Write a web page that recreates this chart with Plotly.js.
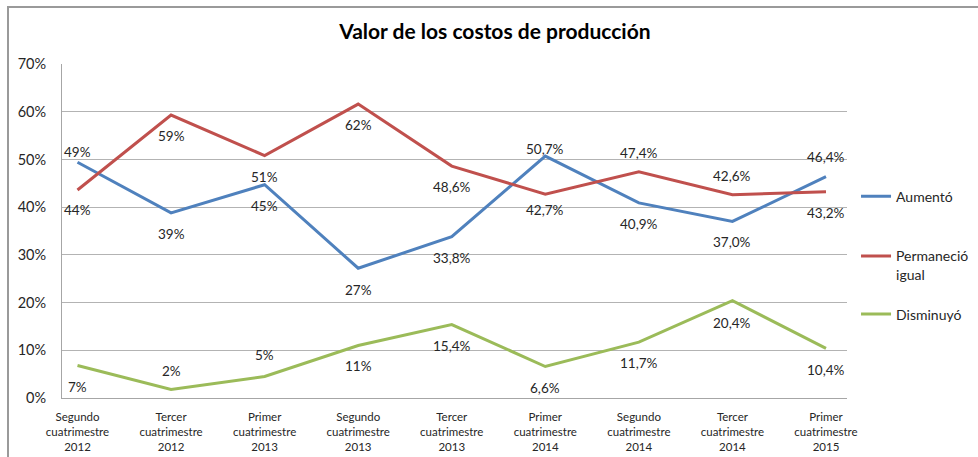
<!DOCTYPE html>
<html>
<head>
<meta charset="utf-8">
<script src="https://cdn.plot.ly/plotly-3.0.1.min.js"></script>
<style>
  html, body { margin: 0; padding: 0; background: #fff; overflow: hidden; }
  #chart { width: 978px; height: 457px; }
  #frame { position: absolute; left: 7px; top: 6px; width: 1100px; height: 600px;
           border: 2px solid #9a9a9a; box-sizing: border-box; pointer-events: none; }
</style>
</head>
<body>
<div id="chart"></div>
<div id="frame"></div>
<script>
const categories = [
  "Segundo<br>cuatrimestre<br>2012",
  "Tercer<br>cuatrimestre<br>2012",
  "Primer<br>cuatrimestre<br>2013",
  "Segundo<br>cuatrimestre<br>2013",
  "Tercer<br>cuatrimestre<br>2013",
  "Primer<br>cuatrimestre<br>2014",
  "Segundo<br>cuatrimestre<br>2014",
  "Tercer<br>cuatrimestre<br>2014",
  "Primer<br>cuatrimestre<br>2015"
];

const aumento     = [49.4, 38.8, 44.7, 27.2, 33.8, 50.7, 40.9, 37.0, 46.4];
const permanecio  = [43.6, 59.3, 50.8, 61.6, 48.6, 42.7, 47.4, 42.6, 43.2];
const disminuyo   = [6.8, 1.8, 4.5, 11.0, 15.4, 6.6, 11.7, 20.4, 10.4];

const aumentoLabels    = ["49%", "39%", "45%", "27%", "33,8%", "50,7%", "40,9%", "37,0%", "46,4%"];
const permanecioLabels = ["44%", "59%", "51%", "62%", "48,6%", "42,7%", "47,4%", "42,6%", "43,2%"];
const disminuyoLabels  = ["7%", "2%", "5%", "11%", "15,4%", "6,6%", "11,7%", "20,4%", "10,4%"];

const seriesNames = ["Aumentó", "Permaneció<br>igual", "Disminuyó"];

// label vertical offsets in px (style only)
const aumentoShift    = [10, -21, -21, -22, -21, 7, -21, -21, 20];
const permanecioShift = [-20, -21, -21, -21, -21, -16, 19, 19, -21];
const disminuyoShift  = [-21, 18, 22, -20, -21, -21, -21, -22, -22];

const colors = ["#4F81BD", "#C0504D", "#9BBB59"];
const FONT = "Lato, 'Open Sans', sans-serif";

const values = [aumento, permanecio, disminuyo];
const labels = [aumentoLabels, permanecioLabels, disminuyoLabels];
const shifts = [aumentoShift, permanecioShift, disminuyoShift];
const legendIds = ["legend", "legend2", "legend3"];
const legendY = [0.651, 0.472, 0.298];

const traces = values.map((v, k) => ({
  type: "scatter",
  mode: "lines",
  x: categories,
  y: v,
  name: seriesNames[k],
  legend: legendIds[k],
  line: { color: colors[k], width: 3 },
  hoverinfo: "skip"
}));

const annotations = [];
values.forEach((v, k) => {
  v.forEach((val, i) => {
    annotations.push({
      x: categories[i], y: val, xref: "x", yref: "y",
      text: labels[k][i], showarrow: false,
      yshift: shifts[k][i],
      font: { family: FONT, size: 13.5, color: "#262626" }
    });
  });
});

const layout = {
  width: 978, height: 457,
  margin: { l: 62, r: 131, t: 64, b: 59, autoexpand: false },
  paper_bgcolor: "#ffffff",
  plot_bgcolor: "#ffffff",
  font: { family: FONT, color: "#262626" },
  title: {
    text: "<b>Valor de los costos de producción</b>",
    font: { family: FONT, size: 21, color: "#000" },
    x: 0.506, xref: "container", xanchor: "center",
    y: 0.93, yref: "container", yanchor: "middle"
  },
  xaxis: {
    type: "category",
    tickfont: { family: FONT, size: 11.5, color: "#262626" },
    showgrid: false,
    showline: true, linecolor: "#a6a6a6", linewidth: 1,
    ticks: "", ticklabelstandoff: 8, fixedrange: true
  },
  yaxis: {
    range: [0, 70], dtick: 10, ticksuffix: "%",
    tickfont: { family: FONT, size: 14.5, color: "#262626" },
    showgrid: true, gridcolor: "#b3b3b3", gridwidth: 1,
    zeroline: false,
    showline: true, linecolor: "#a6a6a6", linewidth: 1,
    ticks: "", ticklen: 0, ticklabelstandoff: 12, fixedrange: true
  },
  showlegend: true,
  annotations: annotations
};

legendIds.forEach((id, k) => {
  layout[id] = {
    x: 1.0115, xanchor: "left",
    y: legendY[k], yanchor: "top",
    font: { family: FONT, size: 14, color: "#262626" },
    valign: "top",
    bgcolor: "rgba(0,0,0,0)"
  };
});

Plotly.newPlot("chart", traces, layout, { displayModeBar: false, staticPlot: true });
</script>
</body>
</html>
